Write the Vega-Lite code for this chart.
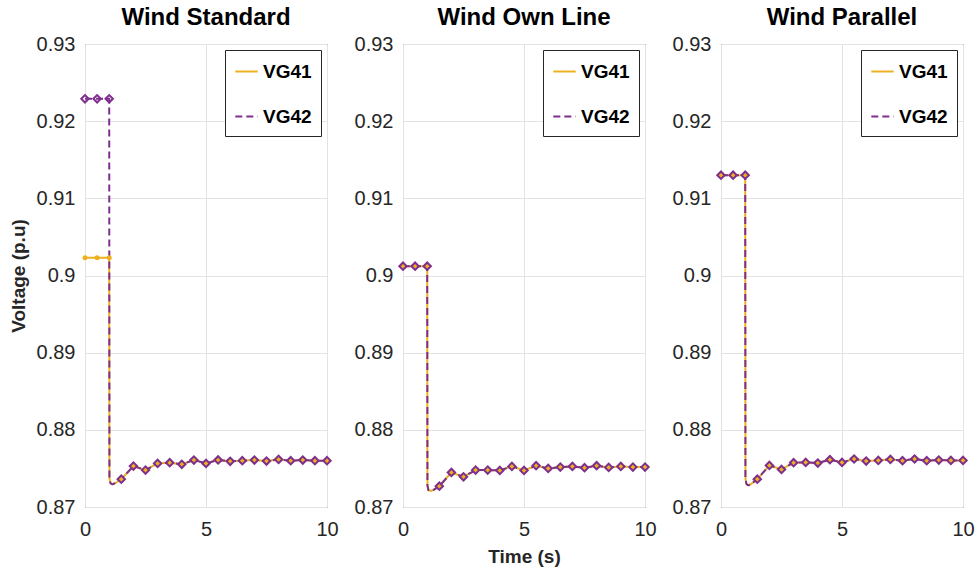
{
  "$schema": "https://vega.github.io/schema/vega-lite/v6.json",
  "padding": {"left": 8, "top": 5, "right": 0, "bottom": 5},
  "datasets": {
    "volt": [
      {"p":"Wind Standard","t":0,"VG41":0.9023,"VG42":0.9229},
      {"p":"Wind Standard","t":0.5,"VG41":0.9023,"VG42":0.9229},
      {"p":"Wind Standard","t":1,"VG41":0.9023,"VG42":0.9229},
      {"p":"Wind Standard","t":1.01,"VG41":0.8737,"VG42":0.8737},
      {"p":"Wind Standard","t":1.05,"VG41":0.8731,"VG42":0.8731},
      {"p":"Wind Standard","t":1.1,"VG41":0.87297,"VG42":0.87297},
      {"p":"Wind Standard","t":1.15,"VG41":0.87296,"VG42":0.87296},
      {"p":"Wind Standard","t":1.25,"VG41":0.8731,"VG42":0.8731},
      {"p":"Wind Standard","t":1.5,"VG41":0.87361,"VG42":0.87361},
      {"p":"Wind Standard","t":2,"VG41":0.8753,"VG42":0.8753},
      {"p":"Wind Standard","t":2.5,"VG41":0.87478,"VG42":0.87478},
      {"p":"Wind Standard","t":3,"VG41":0.87565,"VG42":0.87565},
      {"p":"Wind Standard","t":3.5,"VG41":0.87574,"VG42":0.87574},
      {"p":"Wind Standard","t":4,"VG41":0.87553,"VG42":0.87553},
      {"p":"Wind Standard","t":4.5,"VG41":0.87609,"VG42":0.87609},
      {"p":"Wind Standard","t":5,"VG41":0.87565,"VG42":0.87565},
      {"p":"Wind Standard","t":5.5,"VG41":0.8761,"VG42":0.8761},
      {"p":"Wind Standard","t":6,"VG41":0.87592,"VG42":0.87592},
      {"p":"Wind Standard","t":6.5,"VG41":0.876,"VG42":0.876},
      {"p":"Wind Standard","t":7,"VG41":0.87609,"VG42":0.87609},
      {"p":"Wind Standard","t":7.5,"VG41":0.87596,"VG42":0.87596},
      {"p":"Wind Standard","t":8,"VG41":0.87617,"VG42":0.87617},
      {"p":"Wind Standard","t":8.5,"VG41":0.876,"VG42":0.876},
      {"p":"Wind Standard","t":9,"VG41":0.87609,"VG42":0.87609},
      {"p":"Wind Standard","t":9.5,"VG41":0.876,"VG42":0.876},
      {"p":"Wind Standard","t":10,"VG41":0.876,"VG42":0.876},

      {"p":"Wind Own Line","t":0,"VG41":0.9012,"VG42":0.9012},
      {"p":"Wind Own Line","t":0.5,"VG41":0.9012,"VG42":0.9012},
      {"p":"Wind Own Line","t":1,"VG41":0.9012,"VG42":0.9012},
      {"p":"Wind Own Line","t":1.01,"VG41":0.8728,"VG42":0.8728},
      {"p":"Wind Own Line","t":1.05,"VG41":0.8722,"VG42":0.8722},
      {"p":"Wind Own Line","t":1.1,"VG41":0.87212,"VG42":0.87212},
      {"p":"Wind Own Line","t":1.15,"VG41":0.87209,"VG42":0.87209},
      {"p":"Wind Own Line","t":1.25,"VG41":0.8722,"VG42":0.8722},
      {"p":"Wind Own Line","t":1.5,"VG41":0.87269,"VG42":0.87269},
      {"p":"Wind Own Line","t":2,"VG41":0.87448,"VG42":0.87448},
      {"p":"Wind Own Line","t":2.5,"VG41":0.87391,"VG42":0.87391},
      {"p":"Wind Own Line","t":3,"VG41":0.87478,"VG42":0.87478},
      {"p":"Wind Own Line","t":3.5,"VG41":0.87478,"VG42":0.87478},
      {"p":"Wind Own Line","t":4,"VG41":0.87474,"VG42":0.87474},
      {"p":"Wind Own Line","t":4.5,"VG41":0.87526,"VG42":0.87526},
      {"p":"Wind Own Line","t":5,"VG41":0.87474,"VG42":0.87474},
      {"p":"Wind Own Line","t":5.5,"VG41":0.87535,"VG42":0.87535},
      {"p":"Wind Own Line","t":6,"VG41":0.875,"VG42":0.875},
      {"p":"Wind Own Line","t":6.5,"VG41":0.87517,"VG42":0.87517},
      {"p":"Wind Own Line","t":7,"VG41":0.87526,"VG42":0.87526},
      {"p":"Wind Own Line","t":7.5,"VG41":0.87509,"VG42":0.87509},
      {"p":"Wind Own Line","t":8,"VG41":0.87535,"VG42":0.87535},
      {"p":"Wind Own Line","t":8.5,"VG41":0.87513,"VG42":0.87513},
      {"p":"Wind Own Line","t":9,"VG41":0.87526,"VG42":0.87526},
      {"p":"Wind Own Line","t":9.5,"VG41":0.87517,"VG42":0.87517},
      {"p":"Wind Own Line","t":10,"VG41":0.87517,"VG42":0.87517},

      {"p":"Wind Parallel","t":0,"VG41":0.913,"VG42":0.913},
      {"p":"Wind Parallel","t":0.5,"VG41":0.913,"VG42":0.913},
      {"p":"Wind Parallel","t":1,"VG41":0.913,"VG42":0.913},
      {"p":"Wind Parallel","t":1.01,"VG41":0.8737,"VG42":0.8737},
      {"p":"Wind Parallel","t":1.05,"VG41":0.873,"VG42":0.873},
      {"p":"Wind Parallel","t":1.1,"VG41":0.87285,"VG42":0.87285},
      {"p":"Wind Parallel","t":1.15,"VG41":0.87283,"VG42":0.87283},
      {"p":"Wind Parallel","t":1.25,"VG41":0.873,"VG42":0.873},
      {"p":"Wind Parallel","t":1.5,"VG41":0.87361,"VG42":0.87361},
      {"p":"Wind Parallel","t":2,"VG41":0.87539,"VG42":0.87539},
      {"p":"Wind Parallel","t":2.5,"VG41":0.87487,"VG42":0.87487},
      {"p":"Wind Parallel","t":3,"VG41":0.87574,"VG42":0.87574},
      {"p":"Wind Parallel","t":3.5,"VG41":0.87578,"VG42":0.87578},
      {"p":"Wind Parallel","t":4,"VG41":0.8757,"VG42":0.8757},
      {"p":"Wind Parallel","t":4.5,"VG41":0.87613,"VG42":0.87613},
      {"p":"Wind Parallel","t":5,"VG41":0.87578,"VG42":0.87578},
      {"p":"Wind Parallel","t":5.5,"VG41":0.87622,"VG42":0.87622},
      {"p":"Wind Parallel","t":6,"VG41":0.87596,"VG42":0.87596},
      {"p":"Wind Parallel","t":6.5,"VG41":0.87604,"VG42":0.87604},
      {"p":"Wind Parallel","t":7,"VG41":0.87617,"VG42":0.87617},
      {"p":"Wind Parallel","t":7.5,"VG41":0.876,"VG42":0.876},
      {"p":"Wind Parallel","t":8,"VG41":0.87622,"VG42":0.87622},
      {"p":"Wind Parallel","t":8.5,"VG41":0.876,"VG42":0.876},
      {"p":"Wind Parallel","t":9,"VG41":0.87609,"VG42":0.87609},
      {"p":"Wind Parallel","t":9.5,"VG41":0.87604,"VG42":0.87604},
      {"p":"Wind Parallel","t":10,"VG41":0.87604,"VG42":0.87604}
    ]
  },
  "data": {"name": "volt"},
  "transform": [{"fold": ["VG41", "VG42"], "as": ["key", "v"]}],
  "spacing": 14,
  "resolve": {
    "scale": {"color": "independent", "strokeDash": "independent"},
    "legend": {"color": "independent", "strokeDash": "independent"}
  },
  "hconcat": [
    {
      "title": "Wind Standard",
      "width": 242, "height": 463,
      "transform": [{"filter": "datum.p == 'Wind Standard'"}],
      "encoding": {
        "x": {"field": "t", "type": "quantitative", "scale": {"domain": [0, 10], "nice": false}, "axis": {"values": [0, 5, 10], "title": null}},
        "y": {"field": "v", "type": "quantitative", "scale": {"domain": [0.87, 0.93], "nice": false, "zero": false}, "axis": {"values": [0.87, 0.88, 0.89, 0.9, 0.91, 0.92, 0.93], "format": ".2~f", "title": "Voltage (p.u)"}}
      },
      "layer": [
        {"mark": {"type": "line", "strokeWidth": 2},
         "encoding": {
           "color": {"field": "key", "type": "nominal", "scale": {"domain": ["VG41", "VG42"], "range": ["#EDB120", "#7E2F8E"]}, "legend": {"title": null}},
           "strokeDash": {"field": "key", "type": "nominal", "scale": {"domain": ["VG41", "VG42"], "range": [[1, 0], [7, 4]]}, "legend": {"title": null}}
         }},
        {"transform": [{"filter": "datum.key == 'VG41' && datum.t % 0.5 == 0"}],
         "mark": {"type": "point", "shape": "circle", "filled": true, "color": "#EDB120", "size": 25, "opacity": 1}},
        {"transform": [{"filter": "datum.key == 'VG42' && datum.t % 0.5 == 0"}],
         "mark": {"type": "point", "shape": "diamond", "filled": false, "color": "#7E2F8E", "size": 55, "strokeWidth": 2, "opacity": 1}}
      ]
    },
    {
      "title": "Wind Own Line",
      "width": 242, "height": 463,
      "transform": [{"filter": "datum.p == 'Wind Own Line'"}],
      "encoding": {
        "x": {"field": "t", "type": "quantitative", "scale": {"domain": [0, 10], "nice": false}, "axis": {"values": [0, 5, 10], "title": "Time (s)"}},
        "y": {"field": "v", "type": "quantitative", "scale": {"domain": [0.87, 0.93], "nice": false, "zero": false}, "axis": {"values": [0.87, 0.88, 0.89, 0.9, 0.91, 0.92, 0.93], "format": ".2~f", "title": null}}
      },
      "layer": [
        {"mark": {"type": "line", "strokeWidth": 2},
         "encoding": {
           "color": {"field": "key", "type": "nominal", "scale": {"domain": ["VG41", "VG42"], "range": ["#EDB120", "#7E2F8E"]}, "legend": {"title": null}},
           "strokeDash": {"field": "key", "type": "nominal", "scale": {"domain": ["VG41", "VG42"], "range": [[1, 0], [7, 4]]}, "legend": {"title": null}}
         }},
        {"transform": [{"filter": "datum.key == 'VG41' && datum.t % 0.5 == 0"}],
         "mark": {"type": "point", "shape": "circle", "filled": true, "color": "#EDB120", "size": 25, "opacity": 1}},
        {"transform": [{"filter": "datum.key == 'VG42' && datum.t % 0.5 == 0"}],
         "mark": {"type": "point", "shape": "diamond", "filled": false, "color": "#7E2F8E", "size": 55, "strokeWidth": 2, "opacity": 1}}
      ]
    },
    {
      "title": "Wind Parallel",
      "width": 242, "height": 463,
      "transform": [{"filter": "datum.p == 'Wind Parallel'"}],
      "encoding": {
        "x": {"field": "t", "type": "quantitative", "scale": {"domain": [0, 10], "nice": false}, "axis": {"values": [0, 5, 10], "title": null}},
        "y": {"field": "v", "type": "quantitative", "scale": {"domain": [0.87, 0.93], "nice": false, "zero": false}, "axis": {"values": [0.87, 0.88, 0.89, 0.9, 0.91, 0.92, 0.93], "format": ".2~f", "title": null}}
      },
      "layer": [
        {"mark": {"type": "line", "strokeWidth": 2},
         "encoding": {
           "color": {"field": "key", "type": "nominal", "scale": {"domain": ["VG41", "VG42"], "range": ["#EDB120", "#7E2F8E"]}, "legend": {"title": null}},
           "strokeDash": {"field": "key", "type": "nominal", "scale": {"domain": ["VG41", "VG42"], "range": [[1, 0], [7, 4]]}, "legend": {"title": null}}
         }},
        {"transform": [{"filter": "datum.key == 'VG41' && datum.t % 0.5 == 0"}],
         "mark": {"type": "point", "shape": "circle", "filled": true, "color": "#EDB120", "size": 25, "opacity": 1}},
        {"transform": [{"filter": "datum.key == 'VG42' && datum.t % 0.5 == 0"}],
         "mark": {"type": "point", "shape": "diamond", "filled": false, "color": "#7E2F8E", "size": 55, "strokeWidth": 2, "opacity": 1}}
      ]
    }
  ],
  "config": {
    "font": "Liberation Sans",
    "view": {"stroke": "#262626", "strokeWidth": 1},
    "title": {"fontSize": 24, "fontWeight": "bold", "color": "#000000", "offset": 0, "anchor": "middle"},
    "axis": {
      "labelFont": "Liberation Sans", "labelFontSize": 20, "labelColor": "#262626",
      "titleFont": "Liberation Sans", "titleFontSize": 19, "titleFontWeight": "bold", "titleColor": "#262626",
      "grid": true, "gridColor": "#e3e3e3", "gridWidth": 1,
      "domain": false, "ticks": false, "labelPadding": 10, "titlePadding": 8
    },
    "axisX": {"labelPadding": 12, "titlePadding": 8, "labelFlush": false},
    "axisY": {"labelFlush": false},
    "legend": {
      "orient": "top-right", "offset": 6, "fillColor": "#ffffff", "strokeColor": "#262626",
      "padding": 9, "rowPadding": 22, "labelFontSize": 19, "labelFontWeight": "bold", "labelColor": "#000000",
      "symbolType": "stroke", "symbolStrokeWidth": 2, "symbolSize": 500, "labelOffset": 4
    }
  }
}
